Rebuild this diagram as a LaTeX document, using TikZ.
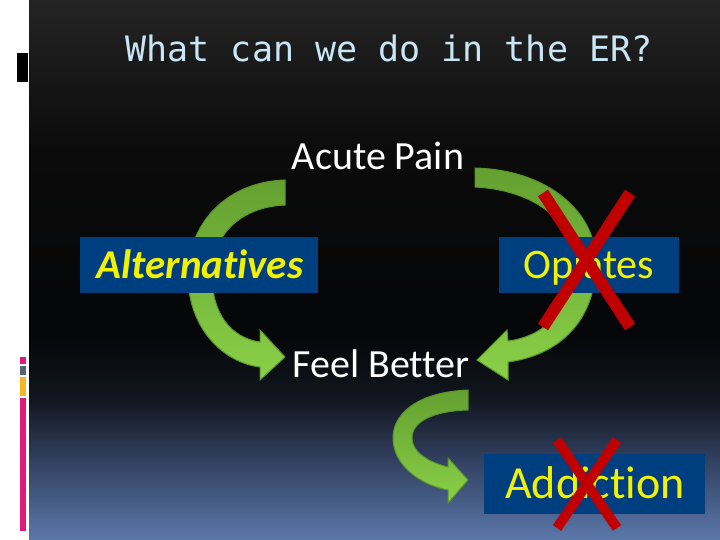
\documentclass[tikz,border=0pt]{standalone}
\usepackage{fontspec}
\setmainfont{Carlito}[Ligatures=NoCommon]
\newfontfamily\titlefont{DejaVu Sans Mono}
\usepackage{tikz}
\usetikzlibrary{positioning}

\definecolor{titleblue}{HTML}{C8E6F5}
\definecolor{boxblue}{HTML}{003F7F}
\definecolor{txtyellow}{HTML}{F2F200}
\definecolor{crossred}{HTML}{C00000}
\definecolor{leafdark}{HTML}{64A030}
\definecolor{leaflight}{HTML}{8AD048}
\definecolor{leafline}{HTML}{5A962A}
\definecolor{barpink}{HTML}{E0197A}
\definecolor{bargrey}{HTML}{5A6470}
\definecolor{baryellow}{HTML}{F5B820}
\definecolor{bgA}{HTML}{5B78AA}
\definecolor{bgB}{HTML}{2E3C5A}
\definecolor{bgC}{HTML}{12161F}
\definecolor{bgD}{HTML}{050608}
\definecolor{bgE}{HTML}{0B0B0B}
\definecolor{bgF}{HTML}{242424}

\pgfdeclareverticalshading{slidebg}{100bp}{
  color(0bp)=(bgA); color(25bp)=(bgA);
  color(33bp)=(bgB); color(38bp)=(bgC);
  color(44bp)=(bgD); color(61bp)=(bgE);
  color(75bp)=(bgF); color(100bp)=(bgF)}

\begin{document}
\begin{tikzpicture}[
    x=1pt, y=-1pt,
    mybox/.style={fill=boxblue, inner sep=0pt, text=txtyellow},
    mylabel/.style={text=white, font=\fontsize{40}{44}\selectfont, anchor=base},
    mycross/.style={draw=crossred, line cap=butt},
    myarrow/.style={top color=leafdark, bottom color=leaflight, draw=leafline, line width=1pt}
]
\useasboundingbox (0,0) rectangle (720,540);
% slide background
\fill[white] (0,0) rectangle (29,540);
\shade[shading=slidebg] (29,0) rectangle (720,540);
\fill[black] (17,53) rectangle (28,82);
\fill[barpink] (20,357) rectangle (26,364);
\fill[bargrey] (20,366) rectangle (26,375);
\fill[baryellow] (20,377) rectangle (26,396);
\fill[barpink] (20,398) rectangle (26,531);

\node[anchor=base, text=titleblue, font=\titlefont\fontsize{35}{40}\selectfont] (title) at (389,62) {What can we do in the ER?};

% curved arrows (behind the boxes)
\draw[myarrow] (285,180) .. controls (225,182) and (188,225) .. (188,275)
  .. controls (188,330) and (225,363) .. (260,367) -- (260,380) -- (285,357)
  -- (260,330) -- (260,342) .. controls (232,338) and (212,315) .. (212,275)
  .. controls (212,235) and (240,207) .. (285,205) -- cycle;
\draw[myarrow] (475,168) .. controls (548,170) and (596,212) .. (596,262)
  .. controls (596,320) and (560,355) .. (508,362) -- (508,380) -- (477,360)
  -- (507,330) -- (508,341) .. controls (548,336) and (574,305) .. (574,262)
  .. controls (574,222) and (535,190) .. (475,187) -- cycle;
\draw[myarrow] (468,390) .. controls (420,392) and (393,412) .. (393,438)
  .. controls (393,465) and (420,485) .. (448,490) -- (448,503) -- (468,480)
  -- (448,458) -- (448,467) .. controls (428,462) and (412,452) .. (412,438)
  .. controls (412,422) and (432,411) .. (468,410) -- cycle;

\node[mylabel] (pain) at (378,170) {Acute Pain};
\node[mylabel] (feel) at (381,377) {Feel Better};

\node[mybox, minimum width=238pt, minimum height=56pt] (alt) at (199,265) {};
\node[anchor=base, text=txtyellow, font=\fontsize{41}{44}\selectfont\bfseries\itshape] (alttext) at (200,278) {Alternatives};
\node[mybox, minimum width=180pt, minimum height=56pt] (opi) at (589,265) {};
\node[anchor=base, text=txtyellow, font=\fontsize{42}{46}\selectfont] (opitext) at (589,278) {Opiates};
\node[mybox, minimum width=221pt, minimum height=60pt] (add) at (594.5,484) {};
\node[anchor=base, text=txtyellow, font=\fontsize{46}{50}\selectfont] (addtext) at (595,498) {Addiction};

% crossed out
\draw[mycross, line width=12pt] (543,193) -- (630,327);
\draw[mycross, line width=12pt] (630,193) -- (543,327);
\draw[mycross, line width=10pt] (557,440) -- (617,528);
\draw[mycross, line width=10pt] (617,440) -- (557,528);
\end{tikzpicture}
\end{document}
